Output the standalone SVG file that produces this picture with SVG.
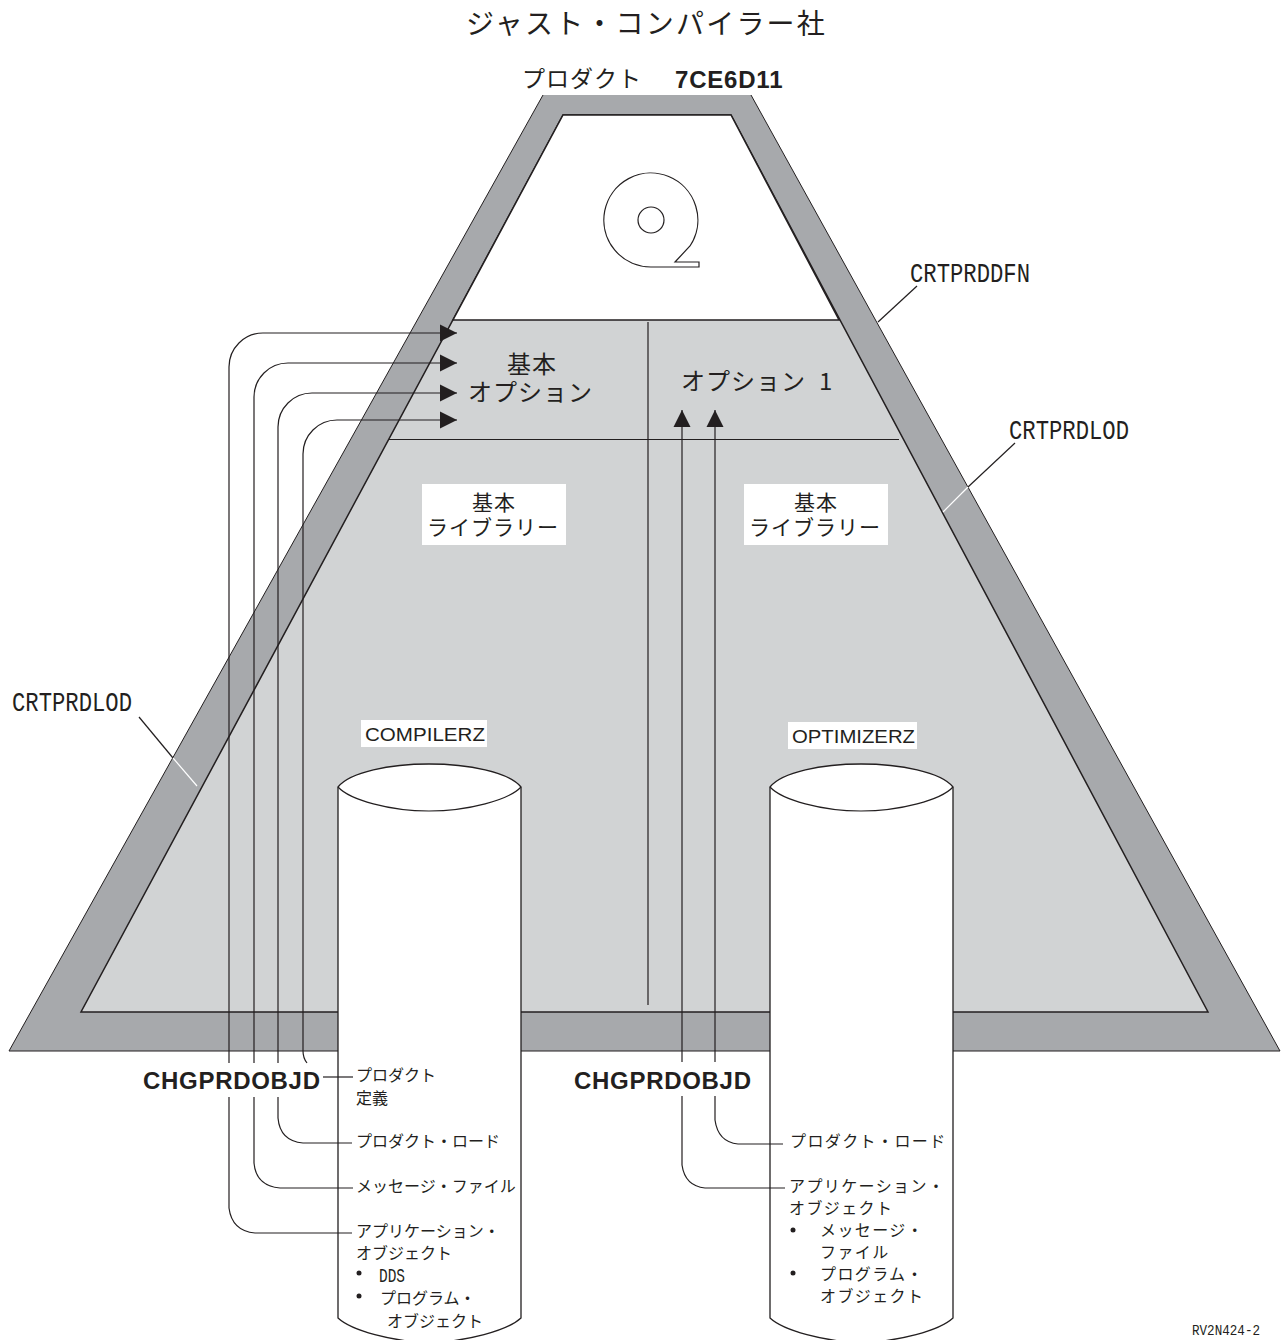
<svg xmlns="http://www.w3.org/2000/svg" width="1282" height="1340" viewBox="0 0 1282 1340">
<defs>
<style>
.jp{font-family:"Noto Sans CJK JP","Noto Sans",sans-serif;fill:#231f20}
.t{font-size:16px;letter-spacing:0}
.r{font-size:16px;letter-spacing:1.4px}
.m{font-size:24px;letter-spacing:1px}
.s{font-size:21px;letter-spacing:1px}
.b{font-family:"Liberation Sans",Arial,sans-serif;font-weight:700;fill:#231f20;font-size:24px;letter-spacing:.7px}
.c{font-family:"Liberation Mono",monospace;fill:#231f20;font-size:27px}
.a{font-family:"Liberation Sans",Arial,sans-serif;fill:#231f20;font-size:19px}
.l{fill:none;stroke:#231f20;stroke-width:1.2}
.w{fill:none;stroke:#fff;stroke-width:1.2}
.cyl{fill:#fff;stroke:#231f20;stroke-width:1.3}
.dot{fill:#231f20}
</style>
<marker id="ah" markerUnits="userSpaceOnUse" markerWidth="18" markerHeight="18" refX="17" refY="9" orient="auto"><path d="M0,0.500 L17,9 L0,17.500 Z" fill="#231f20"/></marker>
</defs>
<g id="pyramid">
<polygon points="543,95 751,95 1280,1051 9,1051" fill="#a7a9ac"/>
<path d="M543,95 L9,1051 H1280 L751,95" fill="none" stroke="#231f20" stroke-width="1"/>
<polygon points="563,115 731,115 1208,1012 81,1012" fill="#d1d3d4" stroke="#231f20" stroke-width="1.5"/>
<polygon points="563,115 731,115 839,320 453,320" fill="#fff" stroke="#231f20" stroke-width="1.5"/>
<path class="l" d="M389,439.500 H899 M648,322 V1005"/>
</g>
<g id="reel">
<circle cx="651" cy="220" r="13" class="l"/>
<path class="l" d="M675,262 L690,246 A47,47 0 1 0 651,267 H699 V262 Z"/>
</g>
<g id="cyl-left">
<path class="cyl" d="M338,787 C350,772 390,764 429,764 C468,764 509,772 521,787 V1318 C507,1331 467,1341 429,1343 C392,1341 352,1331 338,1318 Z"/>
<path class="l" d="M338,787 C350,800 390,811 429,811 C468,811 509,800 521,787"/>
</g>
<g id="cyl-right">
<path class="cyl" d="M770,787 C782,772 822,764 861,764 C900,764 941,772 953,787 V1318 C939,1331 899,1341 861,1343 C824,1341 784,1331 770,1318 Z"/>
<path class="l" d="M770,787 C782,800 822,811 861,811 C900,811 941,800 953,787"/>
</g>
<g id="connectors">
<path class="l" marker-end="url(#ah)" d="M229,1063 V367 A34,34 0 0 1 263,333 H457"/>
<path class="l" marker-end="url(#ah)" d="M254,1063 V397 A34,34 0 0 1 288,363 H457"/>
<path class="l" marker-end="url(#ah)" d="M278,1063 V427 A34,34 0 0 1 312,393 H457"/>
<path class="l" marker-end="url(#ah)" d="M303,1051 V454 A34,34 0 0 1 337,420 H457"/>
<path class="l" d="M303,1051 Q303,1058 307,1063"/>
<path class="l" d="M323,1077 H353"/>
<path class="l" d="M278,1097 V1118 Q280,1141 303,1143 H352"/>
<path class="l" d="M254,1097 V1163 Q256,1186 280,1188 H353"/>
<path class="l" d="M229,1097 V1208 Q232,1231 255,1233 H352"/>
<path class="l" marker-end="url(#ah)" d="M682,1062 V410"/>
<path class="l" marker-end="url(#ah)" d="M715,1062 V410"/>
<path class="l" d="M715,1096 V1120 Q718,1142 738,1144 H783"/>
<path class="l" d="M682,1096 V1165 Q685,1186 705,1188 H785"/>
<path class="l" d="M878,322 L917,286"/>
<path class="l" d="M1015,443 L968,487"/>
<path class="w" d="M968,487 L943,512"/>
<path class="l" d="M139,717 L173,758"/>
<path class="w" d="M173,758 L197,786"/>
</g>
<g id="title"><text class="jp" x="466" y="34" font-size="28" letter-spacing="2.200">ジャスト・コンパイラー社</text></g>
<g id="product"><text class="jp" x="522" y="87" font-size="23" letter-spacing="1">プロダクト</text><text class="b" x="675" y="88" style="letter-spacing:.8px">7CE6D11</text></g>
<g id="base-option"><text class="jp m" x="507" y="373">基本</text><text class="jp m" x="468" y="401">オプション</text></g>
<g id="option1"><text class="jp m" x="681" y="390">オプション</text><text class="jp m" x="819" y="390">1</text></g>
<g id="lib-left"><rect x="422" y="484" width="144" height="61" fill="#fff"/><text class="jp s" x="472" y="510">基本</text><text class="jp s" x="427" y="535">ライブラリー</text></g>
<g id="lib-right"><rect x="744" y="484" width="144" height="61" fill="#fff"/><text class="jp s" x="794" y="510">基本</text><text class="jp s" x="749" y="535">ライブラリー</text></g>
<g id="compilerz"><rect x="361" y="720" width="126" height="27" fill="#fff"/><text class="a" x="365" y="741" textLength="120" lengthAdjust="spacingAndGlyphs">COMPILERZ</text></g>
<g id="optimizerz"><rect x="788" y="722" width="129" height="27" fill="#fff"/><text class="a" x="792" y="743" textLength="123" lengthAdjust="spacingAndGlyphs">OPTIMIZERZ</text></g>
<g id="label-crtprddfn"><text class="c" x="910" y="282" textLength="120" lengthAdjust="spacingAndGlyphs">CRTPRDDFN</text></g>
<g id="label-crtprdlod-r"><text class="c" x="1009" y="439" textLength="120" lengthAdjust="spacingAndGlyphs">CRTPRDLOD</text></g>
<g id="label-crtprdlod-l"><text class="c" x="12" y="711" textLength="120" lengthAdjust="spacingAndGlyphs">CRTPRDLOD</text></g>
<g id="chg-left"><text class="b" x="143" y="1089">CHGPRDOBJD</text></g>
<g id="chg-right"><text class="b" x="574" y="1089">CHGPRDOBJD</text></g>
<g id="left-items">
<text class="jp t" x="356" y="1081">プロダクト</text>
<text class="jp t" x="356" y="1104">定義</text>
<text class="jp t" x="356" y="1147">プロダクト・ロード</text>
<text class="jp t" x="356" y="1192">メッセージ・ファイル</text>
<text class="jp t" x="356" y="1237">アプリケーション・</text>
<text class="jp t" x="356" y="1259">オブジェクト</text>
<circle class="dot" cx="359" cy="1273" r="2.500"/>
<text class="c" x="379" y="1282" textLength="26" lengthAdjust="spacingAndGlyphs" style="font-size:20px">DDS</text>
<circle class="dot" cx="359" cy="1296" r="2.500"/>
<text class="jp t" x="380" y="1304">プログラム・</text>
<text class="jp t" x="387" y="1327">オブジェクト</text>
</g>
<g id="right-items">
<text class="jp r" x="790" y="1147">プロダクト・ロード</text>
<text class="jp r" x="789" y="1192">アプリケーション・</text>
<text class="jp r" x="789" y="1214">オブジェクト</text>
<circle class="dot" cx="793" cy="1230" r="2.500"/>
<text class="jp r" x="820" y="1236">メッセージ・</text>
<text class="jp r" x="820" y="1258">ファイル</text>
<circle class="dot" cx="793" cy="1273" r="2.500"/>
<text class="jp r" x="820" y="1280">プログラム・</text>
<text class="jp r" x="820" y="1302">オブジェクト</text>
</g>
<g id="ref"><text class="c" x="1192" y="1335" textLength="68" lengthAdjust="spacingAndGlyphs" style="font-size:15px">RV2N424-2</text></g>
</svg>
